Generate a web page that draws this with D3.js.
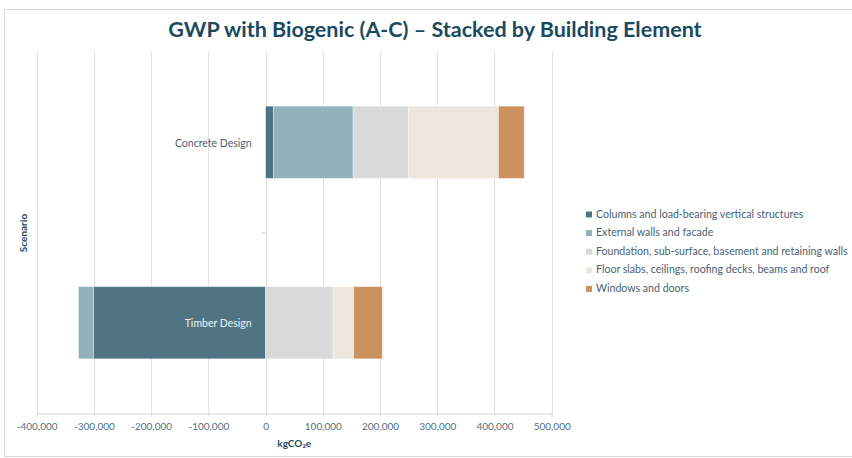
<!DOCTYPE html>
<html>
<head>
<meta charset="utf-8">
<script src="https://cdn.jsdelivr.net/npm/d3@7/dist/d3.min.js"></script>
<style>
  html, body { margin: 0; padding: 0; background: #fff; }
  svg { display: block; font-family: Lato, "Open Sans", sans-serif; }
</style>
</head>
<body>
<svg id="chart" width="852" height="458"></svg>
<script>
// Scenarios (category axis, top to bottom)
const scenarios = ["Concrete Design", "Timber Design"];

// Building element series, in stacking order
const elements = [
  "Columns and load-bearing vertical structures",
  "External walls and facade",
  "Foundation, sub-surface, basement and retaining walls",
  "Floor slabs, ceilings, roofing decks, beams and roof",
  "Windows and doors"
];

// kgCO2e per element, one value per scenario
const columnsValues    = [14000, -301000];
const externalValues   = [139000, -26000];
const foundationValues = [97000, 118000];
const floorValues      = [157000, 36000];
const windowsValues    = [45000, 50000];

const elementColors = ["#4f7584", "#93b1bb", "#d9d9d9", "#ede6df", "#cc925d"];

// Value axis ticks
const tickValues = [-400000, -300000, -200000, -100000, 0, 100000, 200000, 300000, 400000, 500000];

const title = "GWP with Biogenic (A-C) \u2013 Stacked by Building Element";
const xTitle = "kgCO\u2082e";
const yTitle = "Scenario";

// Build table for d3.stack
const seriesValues = [columnsValues, externalValues, foundationValues, floorValues, windowsValues];
const table = scenarios.map((s, i) => {
  const row = { scenario: s };
  elements.forEach((e, k) => { row[e] = seriesValues[k][i]; });
  return row;
});

const svg = d3.select("#chart");

// outer chart frame
svg.append("rect")
  .attr("x", 4.5).attr("y", 9.5)
  .attr("width", 900).attr("height", 447)
  .attr("fill", "none").attr("stroke", "#d9d9d9").attr("stroke-width", 1);

const plot = { left: 36.7, right: 551.7, top: 52, bottom: 413 };

const x = d3.scaleLinear().domain([-400000, 500000]).range([plot.left, plot.right]);
const y = d3.scaleBand().domain(scenarios).range([plot.top, plot.bottom])
  .paddingInner(0.6).paddingOuter(0.3);

// vertical gridlines
svg.append("g")
  .selectAll("line")
  .data(tickValues)
  .join("line")
  .attr("x1", d => Math.round(x(d)) + 0.5).attr("x2", d => Math.round(x(d)) + 0.5)
  .attr("y1", plot.top).attr("y2", plot.bottom)
  .attr("stroke", "#e2e2e2").attr("stroke-width", 1);

// value axis (hyphen-minus for negatives)
const fmt = d3.formatLocale({ decimal: ".", thousands: ",", grouping: [3], currency: ["", ""], minus: "-" }).format(",");
const xAxis = svg.append("g")
  .attr("transform", `translate(0,${plot.bottom + 0.5})`)
  .call(d3.axisBottom(x).tickValues(tickValues).tickFormat(d => fmt(d)).tickSize(3).tickPadding(6));
xAxis.select(".domain").attr("stroke", "#d9d9d9");
xAxis.selectAll(".tick line").attr("stroke", "#d9d9d9");
xAxis.selectAll(".tick text")
  .attr("fill", "#55707f").style("font-size", "10px").style("font-family", "Lato, sans-serif");

// category separator tick at zero
svg.append("line")
  .attr("x1", x(0) - 4).attr("x2", x(0))
  .attr("y1", (plot.top + plot.bottom) / 2 + 0.5).attr("y2", (plot.top + plot.bottom) / 2 + 0.5)
  .attr("stroke", "#c8c8c8");

// stacked bars (negatives stack leftwards from zero)
const stack = d3.stack().keys(elements).offset(d3.stackOffsetDiverging);
const layers = stack(table);

svg.append("g")
  .selectAll("g")
  .data(layers)
  .join("g")
  .attr("fill", (d, i) => elementColors[i])
  .selectAll("rect")
  .data(d => d)
  .join("rect")
  .attr("x", d => x(Math.min(d[0], d[1])))
  .attr("width", d => Math.abs(x(d[1]) - x(d[0])))
  .attr("y", d => y(d.data.scenario))
  .attr("height", y.bandwidth())
  .attr("stroke", "#ffffff").attr("stroke-opacity", 0.45).attr("stroke-width", 0.8);

// category labels
svg.append("g")
  .selectAll("text")
  .data(scenarios)
  .join("text")
  .attr("x", x(0) - 14)
  .attr("y", d => y(d) + y.bandwidth() / 2 + 2)
  .attr("text-anchor", "end")
  .attr("dominant-baseline", "middle")
  .attr("fill", (d, i) => i === 0 ? "#4a6272" : "#eef2f3")
  .style("font-size", "10.5px")
  .text(d => d);

// title
svg.append("text")
  .attr("x", 435).attr("y", 37)
  .attr("text-anchor", "middle")
  .attr("fill", "#1b4a60")
  .style("font-size", "21.5px").style("font-weight", "bold")
  .text(title);

// axis titles
svg.append("text")
  .attr("x", (plot.left + plot.right) / 2).attr("y", 447)
  .attr("text-anchor", "middle")
  .attr("fill", "#1e4d63")
  .style("font-size", "10px").style("font-weight", "bold")
  .text(xTitle);

svg.append("text")
  .attr("transform", "translate(27,233) rotate(-90)")
  .attr("text-anchor", "middle")
  .attr("fill", "#1e4d63")
  .style("font-size", "10px").style("font-weight", "bold")
  .text(yTitle);

// legend
const legend = svg.append("g").attr("transform", "translate(586,215)");
const item = legend.selectAll("g")
  .data(elements)
  .join("g")
  .attr("transform", (d, i) => `translate(0,${i * 18.6})`);
item.append("rect")
  .attr("x", 0).attr("y", -3.5).attr("width", 6).attr("height", 6)
  .attr("fill", (d, i) => elementColors[i]);
item.append("text")
  .attr("x", 10).attr("y", 0)
  .attr("dominant-baseline", "middle")
  .attr("fill", "#4a6272")
  .style("font-size", "10.6px")
  .text(d => d);
</script>
</body>
</html>
